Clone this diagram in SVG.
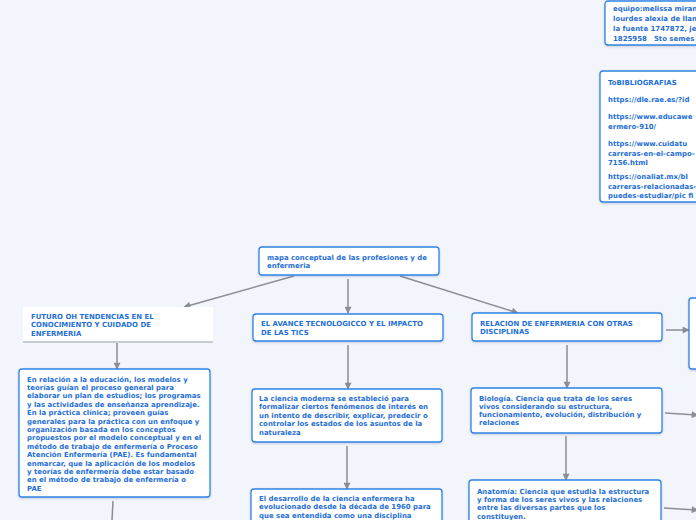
<svg xmlns="http://www.w3.org/2000/svg" width="696" height="520" viewBox="0 0 696 520">
<defs>
<marker id="ah" viewBox="0 0 10 10" refX="9" refY="5" markerWidth="9" markerHeight="7" markerUnits="userSpaceOnUse" orient="auto"><path d="M0,0 L10,5 L0,10 z" fill="#8a8d94"/></marker>
<filter id="sh" x="-5%" y="-5%" width="110%" height="120%"><feDropShadow dx="0" dy="1" stdDeviation="0.8" flood-color="#6b7a99" flood-opacity="0.35"/></filter>
</defs>
<style>
.bx{fill:#ffffff;stroke:#2d84e6;stroke-width:1.3;filter:url(#sh)}
.t{font-family:"DejaVu Sans","Liberation Sans",sans-serif;font-weight:bold;font-size:6.95px;fill:#1f6fd6}
.c{stroke:#8a8d94;stroke-width:1.5;fill:none}
</style>
<rect width="696" height="520" fill="#f3f5fc"/>
<g id="connectors">
<line class="c" x1="294" y1="276" x2="184" y2="307" marker-end="url(#ah)"/>
<line class="c" x1="348" y1="279" x2="348" y2="313" marker-end="url(#ah)"/>
<line class="c" x1="400" y1="276" x2="518" y2="313" marker-end="url(#ah)"/>
<line class="c" x1="117" y1="343" x2="117" y2="369" marker-end="url(#ah)"/>
<line class="c" x1="113" y1="501" x2="112" y2="520"/>
<line class="c" x1="348" y1="345" x2="348" y2="389" marker-end="url(#ah)"/>
<line class="c" x1="347" y1="446" x2="347" y2="489" marker-end="url(#ah)"/>
<line class="c" x1="567" y1="345" x2="567" y2="388" marker-end="url(#ah)"/>
<line class="c" x1="566" y1="436" x2="566" y2="480" marker-end="url(#ah)"/>
<line class="c" x1="666" y1="330" x2="689" y2="330" marker-end="url(#ah)"/>
<line class="c" x1="665" y1="413" x2="698" y2="415" marker-end="url(#ah)"/>
<line class="c" x1="664" y1="508" x2="698" y2="510" marker-end="url(#ah)"/>
</g>
<g id="team">
<rect class="bx" x="605" y="1" width="110" height="44" rx="3"/>
<text class="t"><tspan x="613" y="11">equipo:melissa miran</tspan><tspan x="613" y="21">lourdes alexia de llan</tspan><tspan x="613" y="31">la fuente 1747872, je</tspan><tspan x="613" y="41">1825958&#160;&#160;&#160;5to semes</tspan></text>
</g>
<g id="biblio">
<rect class="bx" x="600" y="71" width="110" height="131" rx="3"/>
<text class="t"><tspan x="608" y="85">ToBIBLIOGRAFIAS</tspan><tspan x="608" y="102">https://dle.rae.es/?id</tspan><tspan x="608" y="119">https://www.educawe</tspan><tspan x="608" y="129">ermero-910/</tspan><tspan x="608" y="146">https://www.cuidatu</tspan><tspan x="608" y="156">carreras-en-el-campo-</tspan><tspan x="608" y="165">7156.html</tspan><tspan x="608" y="179">https://onaliat.mx/bl</tspan><tspan x="608" y="189">carreras-relacionadas-</tspan><tspan x="608" y="198">puedes-estudiar/pic fi</tspan></text>
</g>
<g id="root">
<rect class="bx" x="259" y="247" width="180" height="28" rx="3"/>
<text class="t"><tspan x="267" y="259.5">mapa conceptual de las profesiones y de</tspan><tspan x="267" y="268">enfermeria</tspan></text>
</g>
<g id="futuro">
<rect x="23" y="307" width="190" height="35" fill="#ffffff"/>
<line x1="23" y1="342" x2="213" y2="342" stroke="#b9bcc4" stroke-width="1.5"/>
<text class="t"><tspan x="31" y="318.5">FUTURO OH TENDENCIAS EN EL</tspan><tspan x="31" y="327">CONOCIMIENTO Y CUIDADO DE</tspan><tspan x="31" y="335.5">ENFERMERIA</tspan></text>
</g>
<g id="educacion">
<rect class="bx" x="19" y="369" width="191" height="128" rx="3"/>
<text class="t"><tspan x="27" y="381.5">En relación a la educación, los modelos y</tspan><tspan x="27" y="389.9">teorías guían el proceso general para</tspan><tspan x="27" y="398.3">elaborar un plan de estudios; los programas</tspan><tspan x="27" y="406.7">y las actividades de enseñanza aprendizaje.</tspan><tspan x="27" y="415.1">En la práctica clínica; proveen guías</tspan><tspan x="27" y="423.5">generales para la práctica con un enfoque y</tspan><tspan x="27" y="431.9">organización basada en los conceptos</tspan><tspan x="27" y="440.3">propuestos por el modelo conceptual y en el</tspan><tspan x="27" y="448.7">método de trabajo de enfermería o Proceso</tspan><tspan x="27" y="457.1">Atención Enfermería (PAE). Es fundamental</tspan><tspan x="27" y="465.5">enmarcar, que la aplicación de los modelos</tspan><tspan x="27" y="473.9">y teorías de enfermería debe estar basado</tspan><tspan x="27" y="482.3">en el método de trabajo de enfermería o</tspan><tspan x="27" y="490.7">PAE</tspan></text>
</g>
<g id="avance">
<rect class="bx" x="253" y="314" width="190" height="27" rx="3"/>
<text class="t"><tspan x="261" y="325.5">EL AVANCE TECNOLOGICCO Y EL IMPACTO</tspan><tspan x="261" y="334.5">DE LAS TICS</tspan></text>
</g>
<g id="ciencia">
<rect class="bx" x="252" y="389" width="190" height="53" rx="3"/>
<text class="t"><tspan x="259" y="400.5">La ciencia moderna se estableció para</tspan><tspan x="259" y="409">formalizar ciertos fenómenos de interés en</tspan><tspan x="259" y="417.5">un intento de describir, explicar, predecir o</tspan><tspan x="259" y="426">controlar los estados de los asuntos de la</tspan><tspan x="259" y="434.5">naturaleza</tspan></text>
</g>
<g id="desarrollo">
<rect class="bx" x="251" y="489" width="191" height="50" rx="3"/>
<text class="t"><tspan x="259" y="500.5">El desarrollo de la ciencia enfermera ha</tspan><tspan x="259" y="509">evolucionado desde la década de 1960 para</tspan><tspan x="259" y="517.5">que sea entendida como una disciplina</tspan></text>
</g>
<g id="relacion">
<rect class="bx" x="472" y="313" width="190" height="28" rx="3"/>
<text class="t"><tspan x="480" y="326">RELACION DE ENFERMERIA CON OTRAS</tspan><tspan x="480" y="334">DISCIPLINAS</tspan></text>
</g>
<g id="biologia">
<rect class="bx" x="471" y="388" width="191" height="45" rx="3"/>
<text class="t"><tspan x="479" y="400.5">Biología. Ciencia que trata de los seres</tspan><tspan x="479" y="408.5">vivos considerando su estructura,</tspan><tspan x="479" y="417">funcionamiento, evolución, distribución y</tspan><tspan x="479" y="425">relaciones</tspan></text>
</g>
<g id="anatomia">
<rect class="bx" x="469" y="480" width="192" height="60" rx="3"/>
<text class="t"><tspan x="477" y="493.5">Anatomía: Ciencia que estudia la estructura</tspan><tspan x="477" y="501.5">y forma de los seres vivos y las relaciones</tspan><tspan x="477" y="510">entre las diversas partes que los</tspan><tspan x="477" y="518.5">constituyen.</tspan></text>
</g>
<g id="right-node">
<rect class="bx" x="689" y="298" width="40" height="71" rx="3"/>
</g>
</svg>
